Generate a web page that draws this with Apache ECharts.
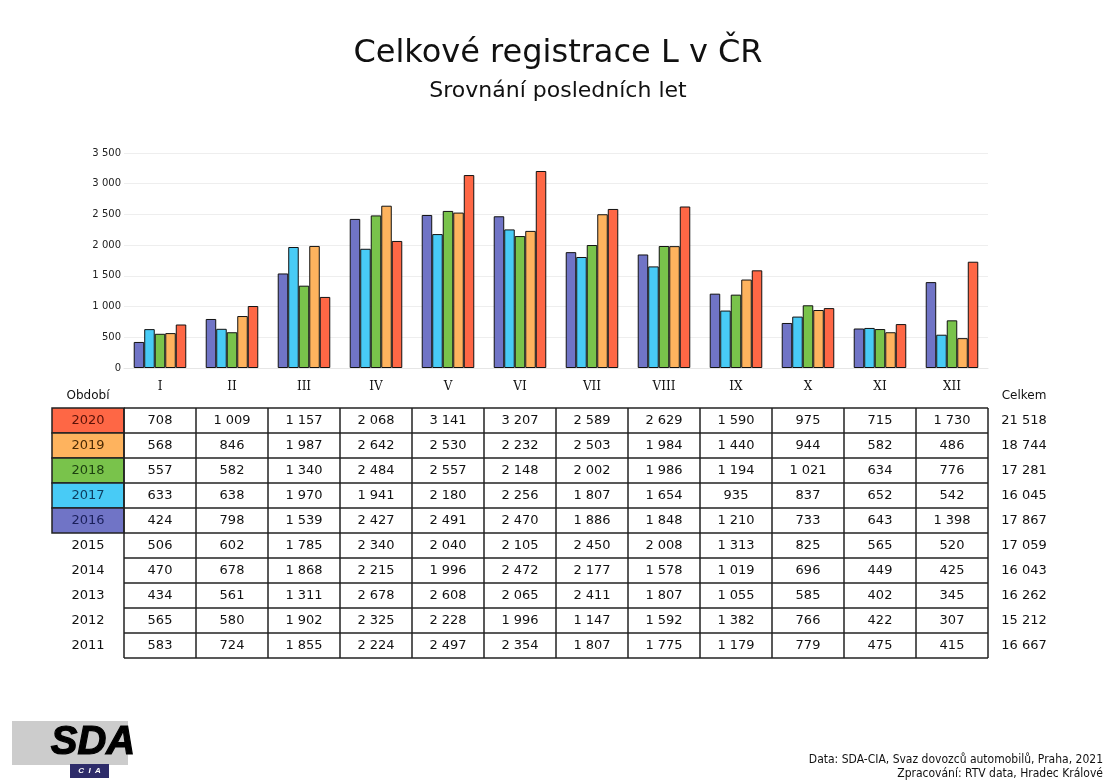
<!DOCTYPE html>
<html lang="cs">
<head>
  <meta charset="UTF-8">
  <title>Celkové registrace L v ČR</title>
  <script src="https://cdn.jsdelivr.net/npm/echarts@6/dist/echarts.min.js"></script>
  <style>
    html, body { margin: 0; padding: 0; background: #fff; }
  </style>
</head>
<body>
<div id="main" style="width: 1116px; height: 784px"></div>
<script>

  var months = ['I', 'II', 'III', 'IV', 'V', 'VI', 'VII', 'VIII', 'IX', 'X', 'XI', 'XII'];
  var yTicks = [0, 500, 1000, 1500, 2000, 2500, 3000, 3500];

  // registrace po letech (tabulka, shora dolu)
  var years = ['2020', '2019', '2018', '2017', '2016', '2015', '2014', '2013', '2012', '2011'];
  var v2020 = [708, 1009, 1157, 2068, 3141, 3207, 2589, 2629, 1590, 975, 715, 1730];
  var v2019 = [568, 846, 1987, 2642, 2530, 2232, 2503, 1984, 1440, 944, 582, 486];
  var v2018 = [557, 582, 1340, 2484, 2557, 2148, 2002, 1986, 1194, 1021, 634, 776];
  var v2017 = [633, 638, 1970, 1941, 2180, 2256, 1807, 1654, 935, 837, 652, 542];
  var v2016 = [424, 798, 1539, 2427, 2491, 2470, 1886, 1848, 1210, 733, 643, 1398];
  var v2015 = [506, 602, 1785, 2340, 2040, 2105, 2450, 2008, 1313, 825, 565, 520];
  var v2014 = [470, 678, 1868, 2215, 1996, 2472, 2177, 1578, 1019, 696, 449, 425];
  var v2013 = [434, 561, 1311, 2678, 2608, 2065, 2411, 1807, 1055, 585, 402, 345];
  var v2012 = [565, 580, 1902, 2325, 2228, 1996, 1147, 1592, 1382, 766, 422, 307];
  var v2011 = [583, 724, 1855, 2224, 2497, 2354, 1807, 1775, 1179, 779, 475, 415];
  var totals = [21518, 18744, 17281, 16045, 17867, 17059, 16043, 16262, 15212, 16667];

  var rows = [v2020, v2019, v2018, v2017, v2016, v2015, v2014, v2013, v2012, v2011];

  // barvy let v grafu (2016 .. 2020)
  var chartYears = ['2016', '2017', '2018', '2019', '2020'];
  var chartValues = [v2016, v2017, v2018, v2019, v2020];
  var fill = { '2016': '#7074c6', '2017': '#48cbf6', '2018': '#79c34b', '2019': '#feb35e', '2020': '#fe6745' };
  var ink = { '2016': '#1a1f5a', '2017': '#0d3c5e', '2018': '#1d4210', '2019': '#4a2a05', '2020': '#5a1208' };

  function fmt(n) {
    return String(n).replace(/\B(?=(\d{3})+(?!\d))/g, ' ');
  }

  var chartDom = document.getElementById('main');
  var myChart = echarts.init(chartDom);
  var option;

  var font = 'Verdana, "DejaVu Sans", sans-serif';

  option = {
    animation: false,
    backgroundColor: '#fff',
    title: [
      {
        text: 'Celkové registrace L v ČR',
        left: 'center',
        top: 33,
        textStyle: { fontFamily: font, fontSize: 32, fontWeight: 'normal', color: '#111' }
      },
      {
        text: 'Srovnání posledních let',
        left: 'center',
        top: 75,
        textStyle: { fontFamily: font, fontSize: 22, fontWeight: 'normal', color: '#111' }
      }
    ],
    grid: { left: 124, right: 128, top: 153, bottom: 416 },
    xAxis: {
      type: 'category',
      data: months,
      axisLine: { show: true, lineStyle: { color: '#e6e6e6' } },
      axisTick: { show: false },
      axisLabel: { fontFamily: '"DejaVu Serif", serif', fontSize: 12, color: '#111', margin: 13 }
    },
    yAxis: {
      type: 'value',
      min: yTicks[0],
      max: yTicks[yTicks.length - 1],
      interval: 500,
      axisLine: { show: false },
      axisTick: { show: false },
      splitLine: { lineStyle: { color: '#eeeeee' } },
      axisLabel: {
        fontFamily: font, fontSize: 10, color: '#222', margin: 3,
        formatter: function (v) { return fmt(v); }
      }
    },
    series: chartYears.map(function (y, i) {
      return {
        name: y,
        type: 'bar',
        data: chartValues[i],
        barGap: '0%',
        barCategoryGap: '27%',
        itemStyle: { color: fill[y], borderColor: '#111', borderWidth: 1 }
      };
    })
  };
  option && myChart.setOption(option);

  buildTable();

  function buildTable() {
    var els = [];
    var top = 408, rowH = 25;
    var x0 = myChart.convertToPixel({ xAxisIndex: 0 }, months[0]);
    var x1 = myChart.convertToPixel({ xAxisIndex: 0 }, months[1]);
    var band = x1 - x0;
    var tableLeft = x0 - band / 2;
    var tableRight = tableLeft + band * months.length;
    var yearLeft = 52;
    var lineStyle = { stroke: '#222', lineWidth: 1.5 };

    els.push({ type: 'text', style: { text: 'Období', x: (yearLeft + tableLeft) / 2, y: 396, align: 'center', verticalAlign: 'middle', font: '12px ' + font, fill: '#111' } });
    els.push({ type: 'text', style: { text: 'Celkem', x: tableRight + 36, y: 396, align: 'center', verticalAlign: 'middle', font: '12px ' + font, fill: '#111' } });

    rows.forEach(function (vals, r) {
      var y = years[r];
      var cy = top + rowH * r + rowH / 2;
      if (fill[y]) {
        els.push({ type: 'rect', shape: { x: yearLeft, y: top + rowH * r, width: tableLeft - yearLeft, height: rowH },
          style: { fill: fill[y], stroke: '#222', lineWidth: 1.5 } });
      }
      els.push({ type: 'text', style: { text: y, x: (yearLeft + tableLeft) / 2, y: cy, align: 'center', verticalAlign: 'middle', font: '13px ' + font, fill: ink[y] || '#111' } });
      vals.forEach(function (v, c) {
        var cx = myChart.convertToPixel({ xAxisIndex: 0 }, months[c]);
        els.push({ type: 'text', style: { text: fmt(v), x: cx, y: cy, align: 'center', verticalAlign: 'middle', font: '13px ' + font, fill: '#111' } });
      });
      els.push({ type: 'text', style: { text: fmt(totals[r]), x: tableRight + 36, y: cy, align: 'center', verticalAlign: 'middle', font: '13px ' + font, fill: '#111' } });
    });

    // mřížka tabulky
    for (var r = 0; r <= rows.length; r++) {
      var ly = top + rowH * r;
      els.push({ type: 'line', shape: { x1: tableLeft, y1: ly, x2: tableRight, y2: ly }, style: lineStyle });
    }
    for (var c = 0; c <= months.length; c++) {
      var lx = tableLeft + band * c;
      els.push({ type: 'line', shape: { x1: lx, y1: top, x2: lx, y2: top + rowH * rows.length }, style: lineStyle });
    }

    // logo a zdroj
    els.push({ type: 'rect', shape: { x: 12, y: 721, width: 116, height: 44 }, style: { fill: '#cccccc' } });
    els.push({ type: 'text', style: { text: 'SDA', x: 93, y: 743, align: 'center', verticalAlign: 'middle', font: 'italic 900 40px "Liberation Sans", Arial, sans-serif', fill: '#000', stroke: '#000', lineWidth: 1.2 } });
    els.push({ type: 'rect', shape: { x: 70, y: 764, width: 39, height: 14 }, style: { fill: '#2e2c6a' } });
    els.push({ type: 'text', style: { text: 'C  I  A', x: 89.5, y: 771, align: 'center', verticalAlign: 'middle', font: 'italic bold 8px "Liberation Sans", Arial, sans-serif', fill: '#fff' } });
    els.push({ type: 'text', style: { text: 'Data: SDA-CIA, Svaz dovozců automobilů, Praha, 2021', x: 1103, y: 760, align: 'right', verticalAlign: 'middle', font: '12px "Liberation Sans Narrow", "DejaVu Sans Condensed", sans-serif', fill: '#111' } });
    els.push({ type: 'text', style: { text: 'Zpracování: RTV data, Hradec Králové', x: 1103, y: 774, align: 'right', verticalAlign: 'middle', font: '12px "Liberation Sans Narrow", "DejaVu Sans Condensed", sans-serif', fill: '#111' } });

    myChart.setOption({ graphic: { elements: els } });
  }

</script>
</body>
</html>
